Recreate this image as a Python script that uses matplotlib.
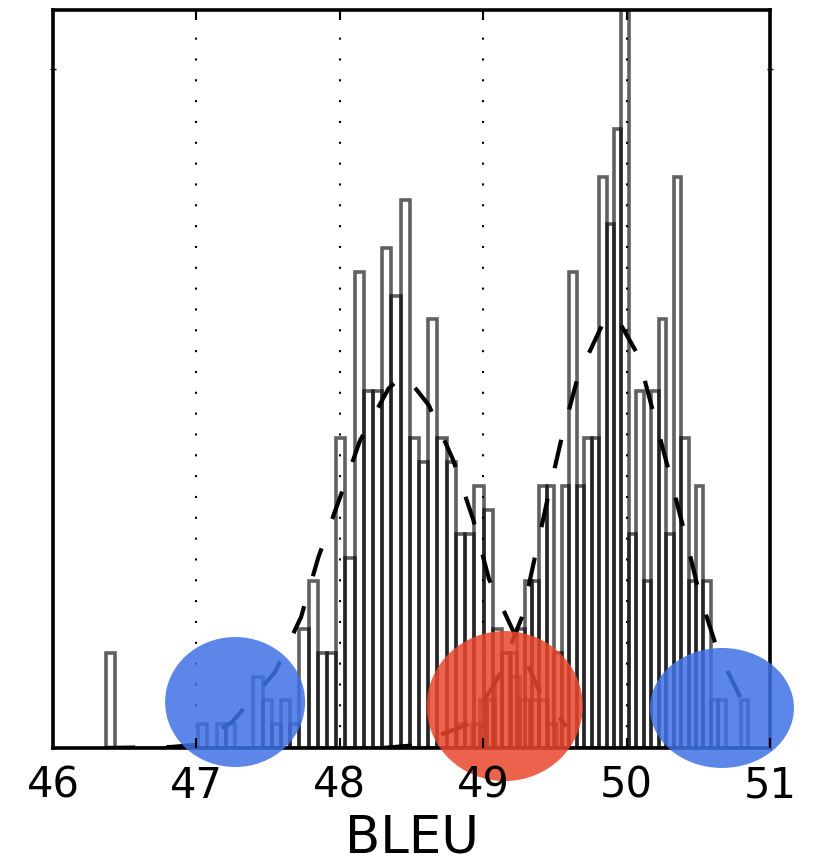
import numpy as np
import matplotlib
matplotlib.use("Agg")
import matplotlib.pyplot as plt
from matplotlib.patches import Ellipse

# system A: replicate BLEU histogram (bin start, bin width, counts)
sys_a_start = 46.37
sys_a_width = 0.0642
sys_a_counts = [4, 0, 0, 0, 0, 0, 0, 0, 0, 0,
                1, 0, 1, 1, 0, 0, 3, 2, 1, 2,
                1, 5, 7, 4, 4, 13, 8, 20, 15, 15,
                21, 19, 23, 13, 12, 18, 13, 12, 9, 9,
                11, 10, 5, 4, 3, 2, 2, 2, 1]

# system B
sys_b_start = 48.30
sys_b_width = 0.052
sys_b_counts = [0, 0, 0, 0, 0, 0, 0, 0, 0, 0,
                1, 0, 1, 2, 2, 3, 4, 4, 5, 7,
                7, 11, 11, 4, 11, 20, 11, 13, 13, 24,
                22, 26, 31, 9, 15, 7, 15, 18, 9, 24,
                13, 7, 11, 7, 2, 2, 0, 0, 2]

# dashed normal fits
fit_a_x = [46.37, 46.82, 47.0, 47.25, 47.55, 47.73, 47.85, 48.0, 48.14,
           48.34, 48.45, 48.62, 48.79, 48.93, 49.04, 49.21, 49.39, 49.58]
fit_a_y = [0.0, 0.04, 0.13, 1.1, 3.2, 5.5, 8.0, 10.5, 12.9,
           15.1, 15.7, 14.4, 12.1, 9.6, 7.1, 4.9, 2.4, 0.9]
fit_b_x = [48.3, 48.5, 48.9, 49.1, 49.27, 49.36, 49.45, 49.55, 49.66,
           49.84, 49.92, 50.08, 50.30, 50.41, 50.51, 50.64, 50.82, 50.87]
fit_b_y = [0.0, 0.1, 1.0, 2.9, 5.5, 8.0, 10.5, 13.1, 15.6,
           17.9, 18.2, 16.5, 11.5, 8.9, 6.4, 4.0, 1.8, 1.4]

xticks = [46, 47, 48, 49, 50, 51]
grid_x = [47, 48, 49, 50]


def draw_hist(ax, start, width, counts):
    counts = np.asarray(counts, dtype=float)
    edges = start + width * np.arange(len(counts) + 1)
    centers = (edges[:-1] + edges[1:]) / 2
    ax.hist(centers, bins=edges, weights=counts, histtype='bar',
            facecolor='none', edgecolor=(0, 0, 0, 0.62), linewidth=2.6, zorder=1)


fig = plt.figure(figsize=(8.24, 8.66), dpi=100)
ax = fig.add_axes([0.0643, 0.1363, 0.8702, 0.8522])

for gx in grid_x:
    ax.axvline(gx, color='black', linewidth=1.5, linestyle=(0, (1, 9)), zorder=0.5)

draw_hist(ax, sys_a_start, sys_a_width, sys_a_counts)
draw_hist(ax, sys_b_start, sys_b_width, sys_b_counts)

ax.plot(fit_a_x, fit_a_y, color='black', linewidth=3, linestyle=(0, (7, 7.5)), zorder=2)
ax.plot(fit_b_x, fit_b_y, color='black', linewidth=3, linestyle=(0, (7, 7.5)), zorder=2)

# highlighted regions: tails (blue) and overlap (red)
for cx, cy, w, h, col in [(47.27, 1.93, 0.976, 5.46, '#3f72e6'),
                          (49.15, 1.76, 1.088, 6.30, '#e9472d'),
                          (50.665, 1.68, 1.004, 5.04, '#3f72e6')]:
    ax.add_patch(Ellipse((cx, cy), w, h, facecolor=col, edgecolor='none',
                         alpha=0.85, clip_on=False, zorder=3))

ax.set_xlim(46, 51)
ax.set_ylim(0, 31)
ax.set_xticks(xticks)
ax.set_xticklabels([str(t) for t in xticks], fontsize=30)
ax.set_yticks([28.5])
ax.set_yticklabels([])
ax.tick_params(axis='x', direction='in', length=7, width=1.5, top=True, pad=12)
ax.tick_params(axis='y', direction='inout', length=4, width=1, right=True)
ax.set_xlabel('BLEU', fontsize=37, labelpad=5)
ax.xaxis.set_zorder(4)
for sp in ax.spines.values():
    sp.set_linewidth(2.6)

fig.savefig('out.png', dpi=100)
